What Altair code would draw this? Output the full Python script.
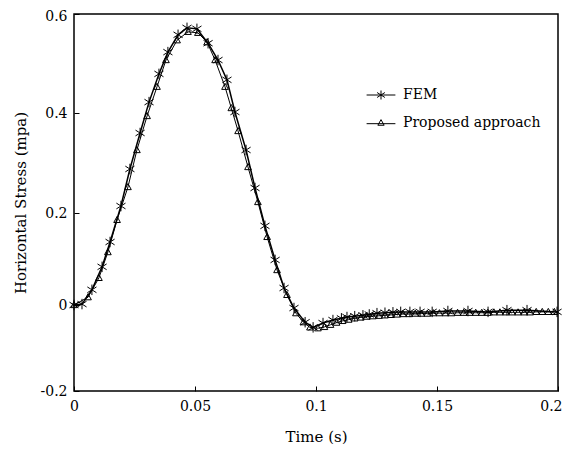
import altair as alt
import pandas as pd

# ---- data ----
series_names = ["FEM", "Proposed approach"]

fem_t = [0, 0.0033, 0.0074, 0.0116, 0.0149, 0.0194, 0.0231, 0.0273, 0.031, 0.0351,
         0.0388, 0.043, 0.0467, 0.0508, 0.0554, 0.0595, 0.0632, 0.0665, 0.0711, 0.0748,
         0.0789, 0.0831, 0.0868, 0.0909, 0.0955, 0.0988, 0.1029, 0.107, 0.1105, 0.1128,
         0.116, 0.1194, 0.122, 0.1252, 0.1285, 0.1318, 0.135, 0.1388, 0.143, 0.148,
         0.1545, 0.1628, 0.1711, 0.1789, 0.1872, 0.1996]
fem_y = [0, 0.002, 0.033, 0.083, 0.137, 0.214, 0.288, 0.36, 0.422, 0.479,
         0.523, 0.558, 0.572, 0.570, 0.541, 0.507, 0.467, 0.402, 0.326, 0.25,
         0.172, 0.098, 0.037, -0.007, -0.04, -0.052, -0.042, -0.035, -0.031, -0.028,
         -0.026, -0.024, -0.022, -0.019, -0.018, -0.017, -0.016, -0.016, -0.016, -0.016,
         -0.014, -0.014, -0.016, -0.012, -0.012, -0.016]

prop_t = [0, 0.0058, 0.0103, 0.014, 0.0178, 0.0223, 0.026, 0.0302, 0.0343, 0.038,
          0.0426, 0.0471, 0.0512, 0.055, 0.0583, 0.0624, 0.065, 0.0678, 0.0719, 0.076,
          0.0798, 0.0839, 0.088, 0.0917, 0.0948, 0.0975, 0.1008, 0.1035, 0.106, 0.1085,
          0.111, 0.1135, 0.116, 0.1185, 0.121, 0.1235, 0.126, 0.1285, 0.131, 0.1335,
          0.136, 0.1385, 0.141, 0.1435, 0.146, 0.1485, 0.151, 0.1535, 0.156, 0.1585,
          0.161, 0.1635, 0.166, 0.1685, 0.171, 0.1735, 0.176, 0.1785, 0.181, 0.1835,
          0.186, 0.1885, 0.191, 0.1935, 0.196, 0.1985]
prop_y = [0, 0.017, 0.059, 0.115, 0.185, 0.252, 0.326, 0.394, 0.453, 0.507,
          0.547, 0.564, 0.562, 0.543, 0.507, 0.453, 0.41, 0.364, 0.292, 0.222,
          0.148, 0.076, 0.022, -0.019, -0.04, -0.052, -0.054, -0.051, -0.046, -0.041,
          -0.037, -0.034, -0.031, -0.029, -0.027, -0.026, -0.025, -0.024, -0.023, -0.022,
          -0.021, -0.021, -0.020, -0.020, -0.020, -0.019, -0.019, -0.019, -0.019, -0.018,
          -0.018, -0.018, -0.018, -0.018, -0.018, -0.017, -0.017, -0.017, -0.017, -0.017,
          -0.017, -0.017, -0.016, -0.016, -0.016, -0.016]

x_ticks = [0, 0.05, 0.1, 0.15, 0.2]
y_ticks = [-0.2, 0, 0.2, 0.4, 0.6]

df = pd.DataFrame({
    "t": fem_t + prop_t,
    "s": fem_y + prop_y,
    "series": [series_names[0]] * len(fem_t) + [series_names[1]] * len(prop_t),
})

FONT = "DejaVu Serif"
W, H = 484, 377
# y positions of the tick values as they appear in the reference (piecewise)
y_range_px = [H, 291, 199, 99, 0]

ASTER = "M0,-1L0,1M-0.87,-0.55L0.87,0.55M-0.87,0.55L0.87,-0.55"
TRI = "M0,-1L0.95,0.75L-0.95,0.75Z"
LEG_ASTER = "M-3.2,0L3.2,0M0,-1L0,1M-0.87,-0.55L0.87,0.55M-0.87,0.55L0.87,-0.55"
LEG_TRI = "M-3.2,0.15L3.2,0.15M0,-0.75L0.7,0.5L-0.7,0.5Z"

x_enc = alt.X(
    "t:Q",
    scale=alt.Scale(domain=[0, 0.2], nice=False, zero=False),
    axis=alt.Axis(values=x_ticks, title="Time (s)", labelExpr="'' + datum.value",
                  offset=-5, tickSize=5, domain=False, grid=False, labelFlush=False,
                  labelAlign={"condition": {"test": "datum.value >= 0.2", "value": "right"},
                              "value": "center"},
                  labelOffset={"condition": {"test": "datum.value >= 0.2", "value": 4},
                               "value": 0},
                  labelPadding=8, titlePadding=16),
)
y_enc = alt.Y(
    "s:Q",
    scale=alt.Scale(domain=y_ticks, range=y_range_px, nice=False, zero=False),
    axis=alt.Axis(values=y_ticks, title="Horizontal Stress (mpa)",
                  labelExpr="'' + datum.value", labelFlush=False,
                  labelOffset={"condition": {"test": "datum.value >= 0.6", "value": 2},
                               "value": 0},
                  offset=-5, tickSize=5, domain=False, grid=False,
                  labelPadding=7, titlePadding=12),
)

base = alt.Chart(df).encode(x=x_enc, y=y_enc)

fem_line = base.transform_filter(alt.datum.series == series_names[0]).mark_line(
    color="black", strokeWidth=1.5)
prop_line = base.transform_filter(alt.datum.series == series_names[1]).mark_line(
    color="black", strokeWidth=1.0)
prop_pts = base.transform_filter(alt.datum.series == series_names[1]).mark_point(
    shape=TRI, size=49, filled=False, color="black", strokeWidth=1, opacity=1)
fem_pts = base.transform_filter(alt.datum.series == series_names[0]).mark_point(
    shape=ASTER, size=110, filled=False, color="black", strokeWidth=1, opacity=1)

legend_layer = base.mark_point(opacity=0, filled=False, color="black").encode(
    shape=alt.Shape(
        "series:N",
        scale=alt.Scale(domain=series_names, range=[LEG_ASTER, LEG_TRI]),
        legend=alt.Legend(
            title=None, orient="none", legendX=300, legendY=74,
            symbolSize=81, symbolOpacity=1, symbolStrokeColor="black",
            symbolStrokeWidth=1, symbolFillColor="transparent",
            labelFont=FONT, labelFontSize=14, labelColor="black",
            labelOffset=15, rowPadding=14,
        ),
    )
)

chart = alt.layer(fem_line, prop_line, prop_pts, fem_pts, legend_layer).properties(
    width=W, height=H,
    autosize=alt.AutoSizeParams(type="none"),
    padding={"left": 66, "top": 6, "right": 5, "bottom": 53},
).configure_view(
    stroke="black", strokeWidth=1.5
).configure_axis(
    labelFont=FONT, labelFontSize=14, labelColor="black",
    titleFont=FONT, titleFontSize=15, titleFontWeight="normal", titleColor="black",
    tickColor="black", tickWidth=1,
).configure_legend(
    labelFont=FONT
)

chart.save("out.html", embed_options={"renderer": "svg", "actions": False})
